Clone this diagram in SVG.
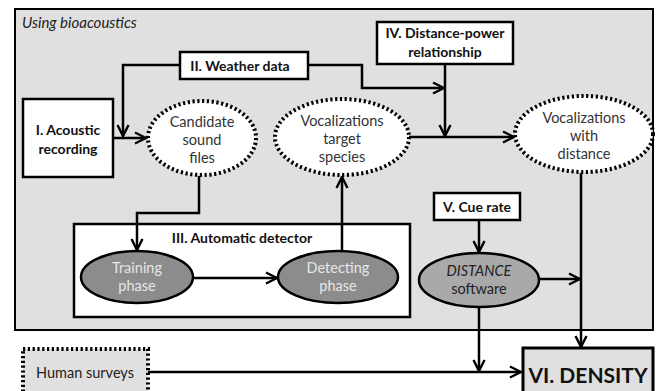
<svg xmlns="http://www.w3.org/2000/svg" width="656" height="391" viewBox="0 0 656 391">
<defs>
<marker id="arr" viewBox="0 0 14 14" refX="12.5" refY="7" markerWidth="14" markerHeight="14" markerUnits="userSpaceOnUse" orient="auto">
<path d="M1.5,1.5 L12.5,7 L1.5,12.5" fill="none" stroke="#000" stroke-width="2.4"/>
</marker>
<style>
.box{fill:#fff;stroke:#000;stroke-width:2.5}
.dot{fill:#fff;stroke:#000;stroke-width:4;stroke-dasharray:2.2 2.6}
.gel{fill:#8c8c8c;stroke:#000;stroke-width:2.5}
.t{font-family:Lato,"Open Sans","Liberation Sans",sans-serif;text-anchor:middle}
.b{font-weight:bold;font-size:14px;fill:#111}
.n{font-size:14.5px;fill:#333}
.w{font-size:14.5px;fill:#e6e6e6}
.c{fill:none;stroke:#000;stroke-width:2.5}
</style>
</defs>
<rect x="0" y="0" width="656" height="391" fill="#fff"/>
<g id="panel">
<rect x="15" y="9" width="638" height="321" fill="#e0e0e0" stroke="#000" stroke-width="2"/>
<text x="22" y="28" font-family="Lato,'Open Sans','Liberation Sans',sans-serif" font-size="15" font-style="italic" fill="#222">Using bioacoustics</text>
</g>
<g id="detector">
<rect x="74" y="224" width="336" height="93" fill="#fff" stroke="#000" stroke-width="2.5"/>
<text class="t b" x="242" y="243">III. Automatic detector</text>
</g>
<g id="connectors">
<path class="c" d="M180,65 H123 V136" marker-end="url(#arr)"/>
<path class="c" d="M113,138 H146" marker-end="url(#arr)"/>
<path class="c" d="M308,65 H362 V88 H444" marker-end="url(#arr)"/>
<path class="c" d="M445,64 V136" marker-end="url(#arr)"/>
<path class="c" d="M409,137 H514" marker-end="url(#arr)"/>
<path class="c" d="M199,176 V213 H137 V250" marker-end="url(#arr)"/>
<path class="c" d="M193,278 H277" marker-end="url(#arr)"/>
<path class="c" d="M342,251 V177" marker-end="url(#arr)"/>
<path class="c" d="M479,220 V252" marker-end="url(#arr)"/>
<path class="c" d="M539,279 H580" marker-end="url(#arr)"/>
<path class="c" d="M581,173 V347" marker-end="url(#arr)"/>
<path class="c" d="M479,307 V371" marker-end="url(#arr)"/>
<path class="c" d="M148,372 H521" marker-end="url(#arr)"/>
</g>
<g id="acoustic">
<rect class="box" x="23" y="99" width="90" height="78"/>
<text class="t b" x="68" y="135" font-size="15">I. Acoustic</text>
<text class="t b" x="68" y="154" font-size="15">recording</text>
</g>
<g id="weather">
<rect class="box" x="180" y="52" width="128" height="27"/>
<text class="t b" x="240" y="71">II. Weather data</text>
</g>
<g id="distpower">
<rect class="box" x="377" y="22" width="136" height="42"/>
<text class="t b" x="445" y="38">IV. Distance-power</text>
<text class="t b" x="445" y="57">relationship</text>
</g>
<g id="candidate">
<ellipse class="dot" cx="202" cy="138" rx="54" ry="37"/>
<text class="t n" x="202" y="127">Candidate</text>
<text class="t n" x="202" y="145">sound</text>
<text class="t n" x="202" y="163">files</text>
</g>
<g id="voctarget">
<ellipse class="dot" cx="342" cy="137" rx="67" ry="38"/>
<text class="t n" x="342" y="126">Vocalizations</text>
<text class="t n" x="342" y="144">target</text>
<text class="t n" x="342" y="162">species</text>
</g>
<g id="vocdist">
<ellipse class="dot" cx="584" cy="134" rx="69" ry="38"/>
<text class="t n" x="584" y="123">Vocalizations</text>
<text class="t n" x="584" y="141">with</text>
<text class="t n" x="584" y="159">distance</text>
</g>
<g id="training">
<ellipse class="gel" cx="137" cy="277" rx="56" ry="26"/>
<text class="t w" x="137" y="273">Training</text>
<text class="t w" x="137" y="291">phase</text>
</g>
<g id="detecting">
<ellipse class="gel" cx="338" cy="277" rx="60" ry="26"/>
<text class="t w" x="338" y="273">Detecting</text>
<text class="t w" x="338" y="291">phase</text>
</g>
<g id="cuerate">
<rect class="box" x="434" y="193" width="86" height="27"/>
<text class="t b" x="477" y="212">V. Cue rate</text>
</g>
<g id="distance">
<ellipse class="gel" cx="479" cy="280" rx="60" ry="27" style="fill:#a9a9a9"/>
<text class="t n" x="479" y="276" font-style="italic" style="fill:#222">DISTANCE</text>
<text class="t n" x="479" y="294" style="fill:#222">software</text>
</g>
<g id="human">
<rect x="23" y="349" width="125" height="50" fill="#e0e0e0" stroke="#000" stroke-width="4" stroke-dasharray="2.2 2.6"/>
<text class="t n" x="85" y="378" style="fill:#222">Human surveys</text>
</g>
<g id="density">
<rect x="523" y="348" width="130" height="52" fill="#e0e0e0" stroke="#000" stroke-width="3"/>
<text class="t" x="588" y="383" font-size="21" font-weight="bold" fill="#111">VI. DENSITY</text>
</g>
</svg>
